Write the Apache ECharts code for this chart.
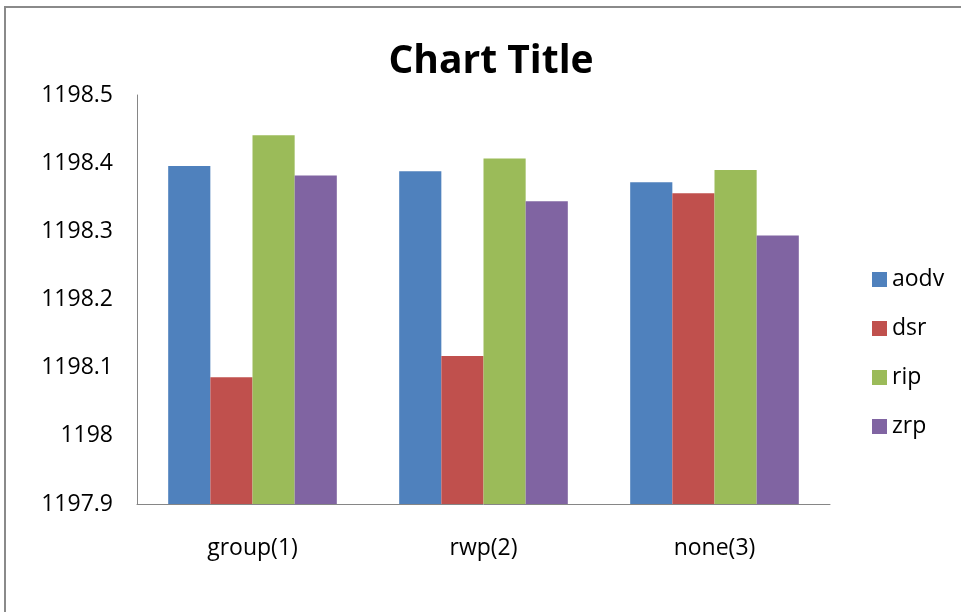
<!DOCTYPE html>
<html>
<head>
<meta charset="utf-8">
<script src="https://cdn.jsdelivr.net/npm/echarts@6/dist/echarts.min.js"></script>
<style>
  html, body { margin: 0; padding: 0; background: #fff; }
  #chart { width: 961px; height: 612px; }
</style>
</head>
<body>
<div id="chart"></div>
<script>
// data
var categories = ['group(1)', 'rwp(2)', 'none(3)'];
var aodv = [1198.396, 1198.388, 1198.372];
var dsr  = [1198.086, 1198.117, 1198.356];
var rip  = [1198.441, 1198.407, 1198.390];
var zrp  = [1198.382, 1198.344, 1198.294];
var seriesNames = ['aodv', 'dsr', 'rip', 'zrp'];
var colors = ['#4f81bd', '#c0504d', '#9bbb59', '#8064a2'];

var font = 'Open Sans';
var chart = echarts.init(document.getElementById('chart'));

function bar(name, data) {
    return {
        name: name,
        type: 'bar',
        data: data,
        barGap: '0%',
        barCategoryGap: '27%'
    };
}

var option = {
    animation: false,
    color: colors,
    graphic: [{
        type: 'rect',
        shape: { x: 5, y: 7, width: 1000, height: 700 },
        style: { fill: 'none', stroke: '#8a8a8a', lineWidth: 2 },
        silent: true
    }],
    title: {
        text: 'Chart Title',
        left: 486,
        textAlign: 'center',
        top: 37,
        textStyle: { fontFamily: font, fontWeight: 'bold', fontSize: 39, color: '#000' }
    },
    legend: {
        orient: 'vertical',
        left: 872,
        top: 268,
        padding: 0,
        itemWidth: 15,
        itemHeight: 15,
        itemGap: 26,
        icon: 'rect',
        data: seriesNames,
        textStyle: { fontFamily: font, fontSize: 23, color: '#000' }
    },
    grid: { left: 137, right: 131, top: 95, bottom: 108 },
    xAxis: {
        type: 'category',
        data: categories,
        axisLine: { lineStyle: { color: '#868686', width: 1 } },
        axisTick: { show: false },
        axisLabel: { fontFamily: font, fontSize: 23, color: '#000', margin: 33 }
    },
    yAxis: {
        type: 'value',
        min: 1197.9,
        max: 1198.5,
        interval: 0.1,
        axisLine: { show: true, lineStyle: { color: '#868686', width: 1 } },
        axisTick: { show: false },
        splitLine: { show: false },
        axisLabel: {
            fontFamily: font, fontSize: 23, color: '#000', margin: 24,
            formatter: function (v) { return String(Math.round(v * 10) / 10); }
        }
    },
    series: [
        bar('aodv', aodv),
        bar('dsr', dsr),
        bar('rip', rip),
        bar('zrp', zrp)
    ]
};

chart.setOption(option);
</script>
</body>
</html>
